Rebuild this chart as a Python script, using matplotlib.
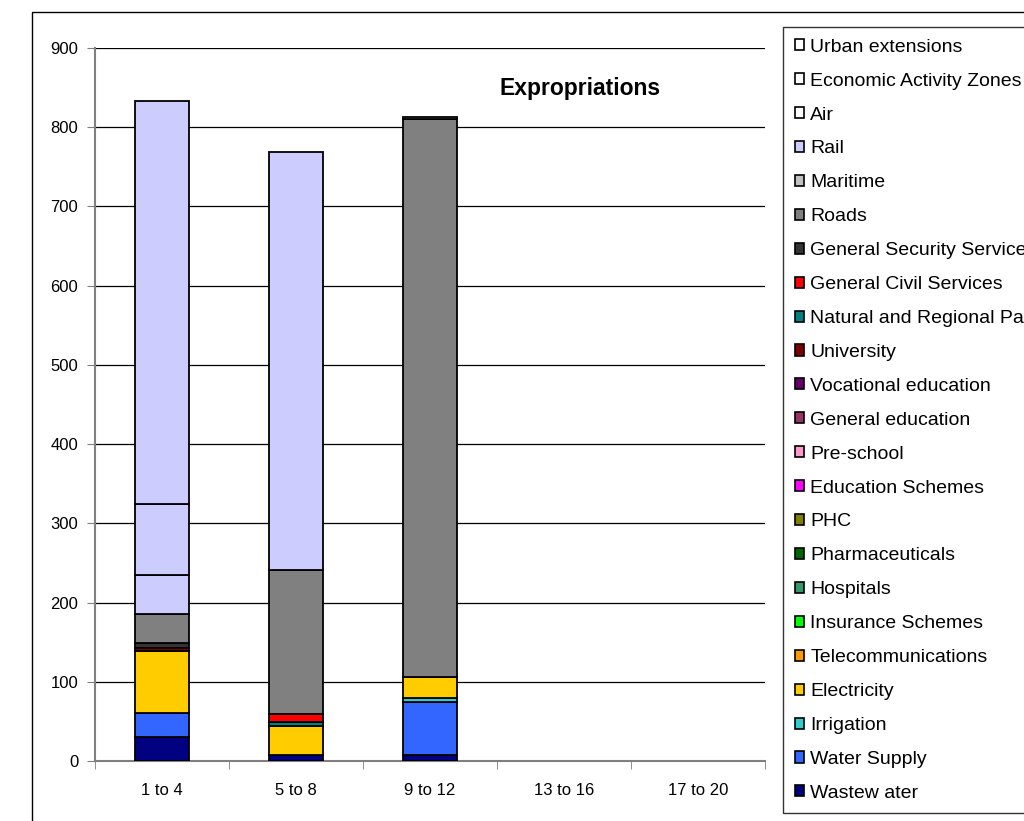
import matplotlib
matplotlib.use("Agg")
import matplotlib.pyplot as plt
from matplotlib.patches import Patch, Rectangle
import numpy as np

plt.rcParams['font.family'] = ['Liberation Sans', 'DejaVu Sans']

categories = ["1 to 4", "5 to 8", "9 to 12", "13 to 16", "17 to 20"]

# Series listed bottom of stack first
series_names = [
    "Wastew ater", "Water Supply", "Irrigation", "Electricity",
    "Telecommunications", "Insurance Schemes", "Hospitals", "Pharmaceuticals",
    "PHC", "Education Schemes", "Pre-school", "General education",
    "Vocational education", "University", "Natural and Regional Parks",
    "General Civil Services", "General Security Services", "Roads",
    "Maritime", "Rail", "Air", "Economic Activity Zones", "Urban extensions",
]

wastewater = [30, 7, 7, 0, 0]
water_supply = [31, 0, 67, 0, 0]
irrigation = [0, 0, 5, 0, 0]
electricity = [78, 37, 27, 0, 0]
telecommunications = [0, 0, 0, 0, 0]
insurance_schemes = [0, 0, 0, 0, 0]
hospitals = [0, 0, 0, 0, 0]
pharmaceuticals = [0, 0, 0, 0, 0]
phc = [0, 0, 0, 0, 0]
education_schemes = [0, 0, 0, 0, 0]
pre_school = [0, 0, 0, 0, 0]
general_education = [0, 0, 0, 0, 0]
vocational_education = [0, 0, 0, 0, 0]
university = [4, 0, 0, 0, 0]
natural_parks = [0, 5, 0, 0, 0]
general_civil = [0, 10, 0, 0, 0]
general_security = [6, 0, 0, 0, 0]
roads = [36, 182, 705, 0, 0]
maritime = [0, 0, 2, 0, 0]
rail = [50, 528, 0, 0, 0]
air = [90, 0, 0, 0, 0]
economic_zones = [508, 0, 0, 0, 0]
urban_extensions = [0, 0, 0, 0, 0]

series_values = [
    wastewater, water_supply, irrigation, electricity, telecommunications,
    insurance_schemes, hospitals, pharmaceuticals, phc, education_schemes,
    pre_school, general_education, vocational_education, university,
    natural_parks, general_civil, general_security, roads, maritime, rail,
    air, economic_zones, urban_extensions,
]

bar_colors = [
    "#000080", "#3366FF", "#33CCCC", "#FFCC00", "#FF9900", "#00FF00",
    "#339966", "#006600", "#808000", "#FF00FF", "#FF99CC", "#993366",
    "#660066", "#800000", "#008080", "#FF0000", "#333333", "#808080",
    "#C0C0C0", "#CCCCFF", "#CCCCFF", "#CCCCFF", "#CCCCFF",
]
legend_colors = bar_colors[:20] + ["#FFFFFF", "#FFFFFF", "#FFFFFF"]

fig = plt.figure(figsize=(10.24, 8.21), dpi=100)
ax = fig.add_axes([95 / 1024, 60 / 821, 670 / 1024, 713 / 821])

x = np.arange(len(categories))
bottom = np.zeros(len(categories))
for vals, col in zip(series_values, bar_colors):
    v = np.array(vals, dtype=float)
    bars = ax.bar(x, v, bottom=bottom, width=0.4, color=col, edgecolor="black",
                  linewidth=1.3, zorder=3)
    for b, h in zip(bars, v):
        if h == 0:
            b.set_visible(False)
    bottom += v

ax.set_xlim(-0.5, len(categories) - 0.5)
ax.set_ylim(0, 900)
ax.set_yticks(np.arange(0, 901, 100))
ax.yaxis.grid(True, color="black", linewidth=0.9, zorder=0)
ax.set_axisbelow(True)
ax.set_xticks(x)
ax.set_xticklabels(categories, fontsize=12)
ax.set_xticks(np.arange(-0.5, len(categories) + 0.5, 1), minor=True)
ax.tick_params(axis="x", which="major", length=0, pad=15.5)
ax.tick_params(axis="x", which="minor", length=6, direction="out", color="#808080")
ax.tick_params(axis="y", labelsize=12, length=6, color="#808080", pad=6)
for s in ["top", "right"]:
    ax.spines[s].set_visible(False)
ax.spines["left"].set_color("#808080")
ax.spines["left"].set_linewidth(1.5)
ax.spines["bottom"].set_color("#808080")
ax.spines["bottom"].set_linewidth(1.5)

ax.text(3.12, 849, "Expropriations", fontsize=16.5, fontweight="bold",
        ha="center", va="center")

handles = [Patch(facecolor=c, edgecolor="black", linewidth=1.2) for c in legend_colors]
leg = fig.legend(handles[::-1], series_names[::-1], loc="upper left",
                 bbox_to_anchor=(779 / 1024, 1 - 27 / 821), borderaxespad=0,
                 fontsize=14, frameon=True, fancybox=False, edgecolor="black",
                 handlelength=0.5, handleheight=0.5, handletextpad=0.3,
                 labelspacing=0.87, borderpad=0.6)
leg.get_frame().set_linewidth(1.0)
# keep the legend frame's left edge at x=783 px
fig.canvas.draw()
bb = leg.get_frame().get_window_extent()
leg.set_bbox_to_anchor((779 / 1024 + (783 - bb.x0) / 1024, 1 - 27 / 821),
                       transform=fig.transFigure)

# Outer chart border
fig.add_artist(Rectangle((32 / 1024, -0.2), 1.2, 1 - 12 / 821 + 0.2,
                         transform=fig.transFigure, fill=False,
                         edgecolor="black", linewidth=1.0))

fig.savefig("out.png", dpi=100)
